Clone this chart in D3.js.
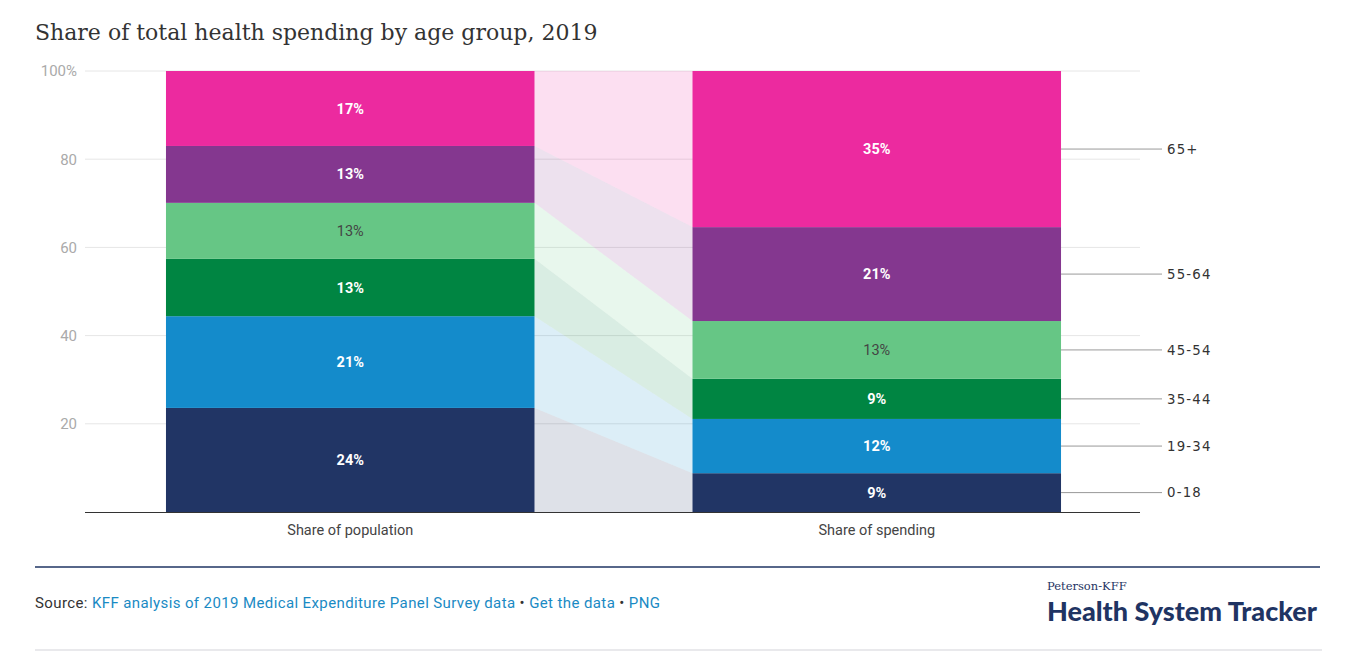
<!DOCTYPE html>
<html>
<head>
<meta charset="utf-8">
<script src="https://cdn.jsdelivr.net/npm/d3@7"></script>
<style>
  body { margin: 0; background: #fff; }
  svg { display: block; }
</style>
</head>
<body>
<div id="chart"></div>
<script>
// data
var columns = ["Share of population", "Share of spending"];
var ageGroups = ["0-18", "19-34", "35-44", "45-54", "55-64", "65+"];
var population = [23.6, 20.8, 13.0, 12.7, 12.9, 17.0];
var spending = [8.8, 12.3, 9.1, 13.1, 21.3, 35.4];
var yTicks = [20, 40, 60, 80, 100];

var colors = ["#213565", "#148bcb", "#008542", "#66c685", "#84378f", "#ec2a9f"];
var darkLabel = ["45-54"];

var svgWidth = 1346;
var svgHeight = 670;

var svg = d3.select("#chart")
  .append("svg")
  .attr("width", svgWidth)
  .attr("height", svgHeight);

// build rows for the stack
var rows = [population, spending].map(function(vals, i) {
  var row = { column: columns[i] };
  ageGroups.forEach(function(g, j) { row[g] = vals[j]; });
  return row;
});

var series = d3.stack().keys(ageGroups)(rows);

var x = d3.scaleBand()
  .domain(columns)
  .range([87, 1140])
  .paddingInner(0.3)
  .paddingOuter(0.15);

var y = d3.scaleLinear()
  .domain([0, 100])
  .range([512, 71]);

var color = d3.scaleOrdinal().domain(ageGroups).range(colors);

// title
svg.append("text")
  .attr("x", 35)
  .attr("y", 40)
  .attr("font-family", "DejaVu Serif")
  .attr("font-size", 22)
  .attr("fill", "#333")
  .text("Share of total health spending by age group, 2019");

// gridlines
svg.append("g")
  .selectAll("line")
  .data(yTicks)
  .enter()
  .append("line")
  .attr("x1", 85)
  .attr("x2", 1140)
  .attr("y1", d => y(d))
  .attr("y2", d => y(d))
  .attr("stroke", "#e6e6e6")
  .attr("stroke-width", 1);

// y axis labels
var yAxis = d3.axisLeft(y)
  .tickValues(yTicks)
  .tickSize(0)
  .tickPadding(0)
  .tickFormat(d => d === 100 ? "100%" : d);

svg.append("g")
  .attr("transform", "translate(77,0)")
  .call(yAxis)
  .call(g => g.select(".domain").remove())
  .call(g => g.selectAll("text")
    .attr("font-family", "Roboto")
    .attr("font-size", 15)
    .attr("fill", "#aaa"));

// connecting bands between the two bars
var leftEdge = x(columns[0]) + x.bandwidth();
var rightEdge = x(columns[1]);

svg.append("g")
  .selectAll("path")
  .data(series)
  .enter()
  .append("path")
  .attr("d", function(s) {
    var a = s[0], b = s[1];
    return "M" + leftEdge + "," + y(a[1]) +
      "L" + rightEdge + "," + y(b[1]) +
      "L" + rightEdge + "," + y(b[0]) +
      "L" + leftEdge + "," + y(a[0]) + "Z";
  })
  .attr("fill", s => color(s.key))
  .attr("fill-opacity", 0.15);

// bars
var layers = svg.append("g")
  .selectAll("g")
  .data(series)
  .enter()
  .append("g")
  .attr("fill", s => color(s.key));

layers.selectAll("rect")
  .data(s => s.map(d => Object.assign({ key: s.key }, d)))
  .enter()
  .append("rect")
  .attr("x", d => x(d.data.column))
  .attr("width", x.bandwidth())
  .attr("y", d => y(d[1]))
  .attr("height", d => y(d[0]) - y(d[1]));

// value labels
layers.selectAll("text")
  .data(s => s.map(d => Object.assign({ key: s.key }, d)))
  .enter()
  .append("text")
  .attr("x", d => x(d.data.column) + x.bandwidth() / 2)
  .attr("y", d => (y(d[0]) + y(d[1])) / 2)
  .attr("dy", "0.35em")
  .attr("text-anchor", "middle")
  .attr("font-family", "Roboto")
  .attr("font-size", 14.5)
  .attr("font-weight", d => darkLabel.indexOf(d.key) >= 0 ? 400 : 700)
  .attr("fill", d => darkLabel.indexOf(d.key) >= 0 ? "#444" : "#fff")
  .text(d => Math.round(d[1] - d[0]) + "%");

// baseline
svg.append("line")
  .attr("x1", 85)
  .attr("x2", 1140)
  .attr("y1", y(0) + 0.5)
  .attr("y2", y(0) + 0.5)
  .attr("stroke", "#333")
  .attr("stroke-width", 1.2);

// x labels
var xAxis = d3.axisBottom(x).tickSize(0).tickPadding(0);
svg.append("g")
  .attr("transform", "translate(0," + 535 + ")")
  .call(xAxis)
  .call(g => g.select(".domain").remove())
  .call(g => g.selectAll("text")
    .attr("dy", 0)
    .attr("font-family", "Roboto")
    .attr("font-size", 14.5)
    .attr("fill", "#444"));

// right-hand group labels with leader lines
var last = series.map(s => ({ key: s.key, d: s[1] }));
var rightEnd = x(columns[1]) + x.bandwidth();

svg.append("g")
  .selectAll("line")
  .data(last)
  .enter()
  .append("line")
  .attr("x1", rightEnd)
  .attr("x2", 1162)
  .attr("y1", l => (y(l.d[0]) + y(l.d[1])) / 2)
  .attr("y2", l => (y(l.d[0]) + y(l.d[1])) / 2)
  .attr("stroke", "#999")
  .attr("stroke-width", 1);

svg.append("g")
  .selectAll("text")
  .data(last)
  .enter()
  .append("text")
  .attr("x", 1167)
  .attr("y", l => (y(l.d[0]) + y(l.d[1])) / 2)
  .attr("dy", "0.35em")
  .attr("font-family", "DejaVu Sans")
  .attr("font-size", 13.3)
  .attr("letter-spacing", 1.2)
  .attr("fill", "#333")
  .text(l => l.key);

// footer
svg.append("line")
  .attr("x1", 35).attr("x2", 1320)
  .attr("y1", 567).attr("y2", 567)
  .attr("stroke", "#1f3463")
  .attr("stroke-width", 1.5);

svg.append("line")
  .attr("x1", 35).attr("x2", 1322)
  .attr("y1", 650).attr("y2", 650)
  .attr("stroke", "#e2e2e6")
  .attr("stroke-width", 1.5);

var source = svg.append("text")
  .attr("x", 35)
  .attr("y", 608)
  .attr("font-family", "Roboto")
  .attr("font-size", 15)
  .attr("textLength", 625)
  .attr("lengthAdjust", "spacing")
  .attr("fill", "#333");

source.append("tspan").text("Source: ");
source.append("tspan").attr("fill", "#1a8ac4").text("KFF analysis of 2019 Medical Expenditure Panel Survey data");
source.append("tspan").text(" \u2022 ");
source.append("tspan").attr("fill", "#1a8ac4").text("Get the data");
source.append("tspan").text(" \u2022 ");
source.append("tspan").attr("fill", "#1a8ac4").text("PNG");

svg.append("text")
  .attr("x", 1047)
  .attr("y", 590)
  .attr("font-family", "DejaVu Serif")
  .attr("font-size", 11.5)
  .attr("fill", "#1f3463")
  .text("Peterson-KFF");

svg.append("text")
  .attr("x", 1047)
  .attr("y", 621)
  .attr("font-family", "Lato")
  .attr("font-weight", 900)
  .attr("font-size", 27)
  .attr("fill", "#1f3463")
  .text("Health System Tracker");
</script>
</body>
</html>
